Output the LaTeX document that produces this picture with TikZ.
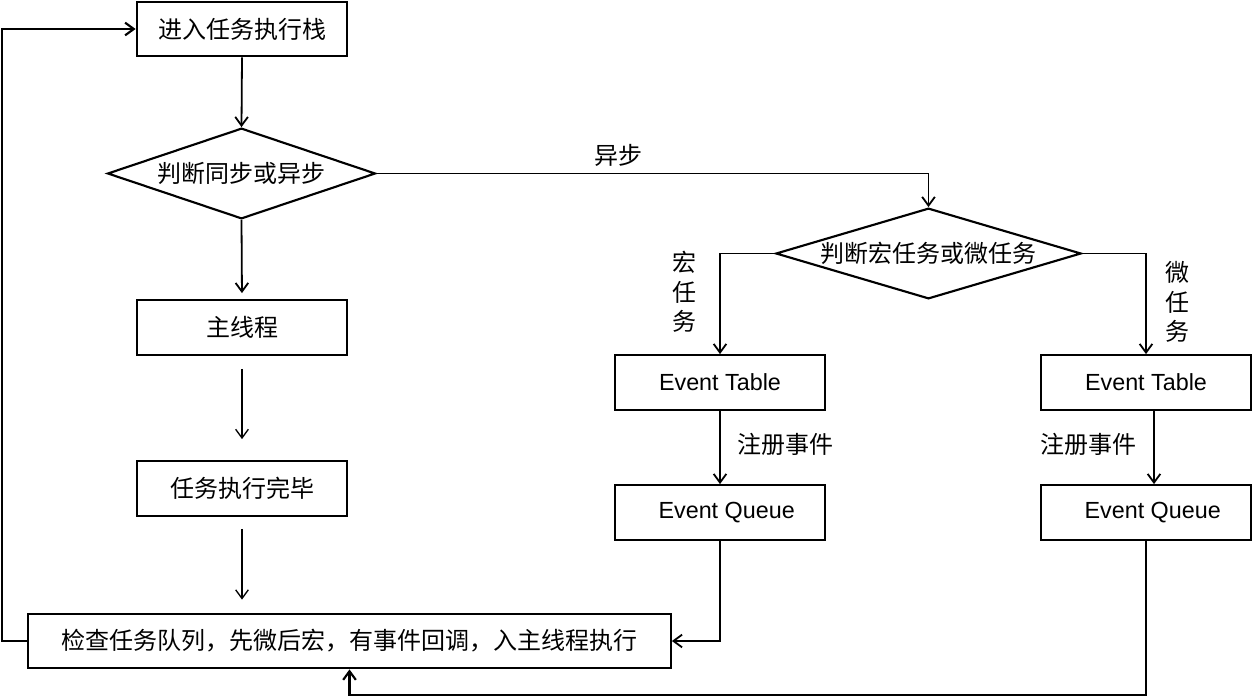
\documentclass[tikz,border=0pt]{standalone}
\usepackage{fontspec}
\setmainfont{Liberation Sans}
\newfontfamily\cjk{Noto Sans CJK SC}
\usetikzlibrary{shapes.geometric,arrows.meta}
\tikzset{every picture/.style={line width=1.35pt},
  box/.style={draw, line width=1.6pt, minimum width=158pt, minimum height=41pt, inner sep=0pt, font=\cjk\fontsize{18}{21}\selectfont},
  evbox/.style={box, font=\fontsize{17.5}{20}\selectfont},
  judge/.style={draw, diamond, shape aspect=3.5, line width=1.6pt, inner sep=0pt, minimum height=68pt, font=\cjk\fontsize{18}{21}\selectfont},
  lbl/.style={inner sep=0pt, align=center, font=\cjk\fontsize{18}{22}\selectfont},
  arr/.style={-{Straight Barb[length=6.5pt,width=9.5pt]}},
  thinarr/.style={arr, line width=1pt}}

\begin{document}
\begin{tikzpicture}[x=0.75pt,y=0.75pt,yscale=-1,xscale=1]
\useasboundingbox (0,0) rectangle (1253,696);

%Shape: Rectangle [id:enter]
\draw (242,29) node [box] (enter) {进入任务执行栈};
%Shape: Diamond [id:judge1]
\draw (241.5,173.5) node [judge, minimum width=201pt] (judge1) {判断同步或异步};
%Shape: Rectangle [id:main]
\draw (242,327.5) node [box] (main) {主线程};
%Shape: Rectangle [id:done]
\draw (242,488.5) node [box] (done) {任务执行完毕};
%Shape: Rectangle [id:check]
\draw (349.5,641) node [box, minimum width=482pt] (check) {检查任务队列，先微后宏，有事件回调，入主线程执行};
%Shape: Diamond [id:judge2]
\draw (928.5,253.5) node [judge, minimum width=229pt] (judge2) {判断宏任务或微任务};
%Shape: Rectangle [id:et1]
\draw (720,382.5) node [evbox] (et1) {Event Table};
%Shape: Rectangle [id:eq1]
\draw (720,512.5) node [evbox] (eq1) {\hspace*{10pt}Event Queue};
%Shape: Rectangle [id:et2]
\draw (1146,382.5) node [evbox] (et2) {Event Table};
%Shape: Rectangle [id:eq2]
\draw (1146,512.5) node [evbox] (eq2) {\hspace*{10pt}Event Queue};

% Text Node
\draw (618.5,155.5) node [lbl] (async) {异步};
% Text Node
\draw (684,292) node [lbl] (macro) {宏\\任\\务};
% Text Node
\draw (1177,302) node [lbl] (micro) {微\\任\\务};
% Text Node
\draw (785,444) node [lbl] (reg1) {注册事件};
% Text Node
\draw (1088.5,444) node [lbl] (reg2) {注册事件};

%Straight Lines
\draw [arr] (enter.south) -- (judge1.north);
\draw [arr, shorten >=4.5pt] (judge1.south) -- (main.north);
\draw [thinarr, shorten <=9.75pt, shorten >=15.75pt] (main.south) -- (done.north);
\draw [thinarr, shorten <=9pt, shorten >=9.75pt] (done.south) -- (done.south |- check.north);
\draw [arr, line width=1.6pt] (check.west) -- ++(-25,0) |- (enter.west);
\draw [arr] (judge1.east) -| (judge2.north);
\draw [arr] (judge2.west) -| (et1.north);
\draw [arr] (judge2.east) -| (et2.north);
\draw [arr] (et1.south) -- (eq1.north);
\draw [arr] ([xshift=6pt]et2.south) -- ([xshift=6pt]eq2.north);
\draw [arr] (eq1.south) |- (check.east);
\draw [arr, line width=1.6pt] (eq2.south) -- ++(0,154) -| (check.south);

\end{tikzpicture}
\end{document}
